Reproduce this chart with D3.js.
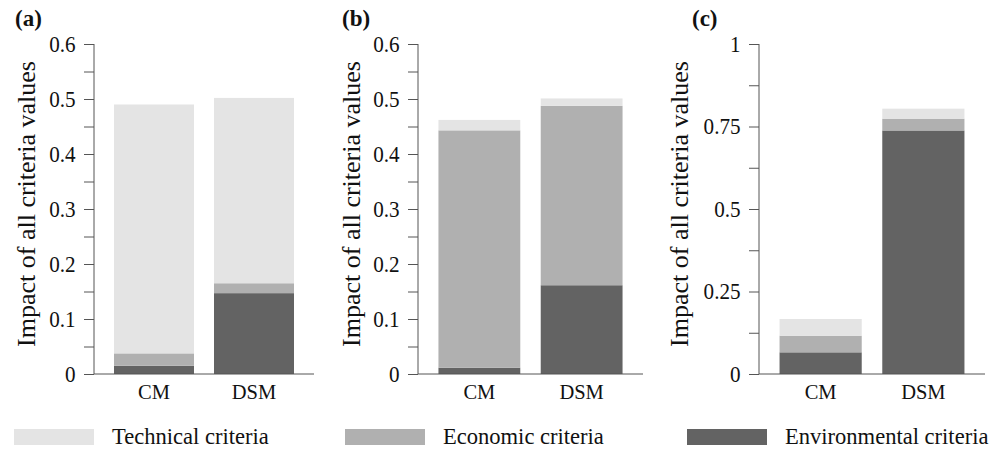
<!DOCTYPE html>
<html>
<head>
<meta charset="utf-8">
<script src="https://cdn.jsdelivr.net/npm/d3@7/dist/d3.min.js"></script>
<style>
  body { margin: 0; background: #fff; }
  svg { display: block; }
  svg text { font-family: "Liberation Serif", Tinos, "Times New Roman", Times, "DejaVu Serif", serif; fill: #111; }
</style>
</head>
<body>
<svg id="chart" width="996" height="451"></svg>
<script>
// ---- data ----
const categories = ["CM", "DSM"];
const seriesNames = ["Environmental criteria", "Economic criteria", "Technical criteria"];
const panelLabels = ["(a)", "(b)", "(c)"];
// values per panel, ordered as categories [CM, DSM]
const envA = [0.015, 0.147];
const ecoA = [0.0225, 0.018];
const techA = [0.4525, 0.337];
const envB = [0.0115, 0.1614];
const ecoB = [0.4315, 0.3261];
const techB = [0.019, 0.0135];
const envC = [0.0657, 0.738];
const ecoC = [0.0503, 0.0357];
const techC = [0.0507, 0.0303];
const yMaxes = [0.6, 0.6, 1];
const tickLabelsAB = ["0", "0.1", "0.2", "0.3", "0.4", "0.5", "0.6"];
const tickLabelsC = ["0", "0.25", "0.5", "0.75", "1"];
const yAxisTitle = "Impact of all criteria values";
const legendOrder = ["Technical criteria", "Economic criteria", "Environmental criteria"];

// ---- styles ----
const colors = {
  "Technical criteria": "#e4e4e4",
  "Economic criteria": "#b0b0b0",
  "Environmental criteria": "#636363"
};
const axisColor = "#555";
const FONT = '"Liberation Serif", Tinos, "Times New Roman", Times, "DejaVu Serif", serif';

const svg = d3.select("#chart");

const panels = [
  { env: envA, eco: ecoA, tech: techA, max: yMaxes[0], minorStep: 0.05, labels: tickLabelsAB,
    x0: 94, x1: 314, titleX: 35, tagX: 15 },
  { env: envB, eco: ecoB, tech: techB, max: yMaxes[1], minorStep: 0.05, labels: tickLabelsAB,
    x0: 418, x1: 643, titleX: 360, tagX: 342 },
  { env: envC, eco: ecoC, tech: techC, max: yMaxes[2], minorStep: 0.125, labels: tickLabelsC,
    x0: 759, x1: 985, titleX: 688, tagX: 692 }
];

const yTop = 44, yBot = 374;

panels.forEach((p, i) => {
  const g = svg.append("g");
  const x = d3.scaleBand().domain(categories).range([p.x0, p.x1]).paddingInner(0.2).paddingOuter(0.2);
  const y = d3.scaleLinear().domain([0, p.max]).range([yBot, yTop]);

  const rows = categories.map((c, k) => ({
    cat: c,
    "Environmental criteria": p.env[k],
    "Economic criteria": p.eco[k],
    "Technical criteria": p.tech[k]
  }));
  const stacked = d3.stack().keys(seriesNames)(rows);

  stacked.forEach(layer => {
    g.append("g").selectAll("rect").data(layer).join("rect")
      .attr("x", d => x(d.data.cat))
      .attr("width", x.bandwidth())
      .attr("y", d => y(d[1]))
      .attr("height", d => y(d[0]) - y(d[1]))
      .attr("fill", colors[layer.key]);
  });

  const nTicks = Math.round(p.max / p.minorStep);
  const tickVals = d3.range(nTicks + 1).map(k => +(k * p.minorStep).toFixed(4));
  const yAxis = d3.axisLeft(y).tickValues(tickVals).tickSize(10).tickPadding(10)
    .tickFormat(v => {
      const l = p.labels.find(s => Math.abs(+s - v) < 1e-6);
      return l !== undefined ? l : "";
    });
  const ya = g.append("g").attr("transform", `translate(${p.x0},0)`).call(yAxis)
    .attr("font-family", FONT);
  ya.select(".domain").attr("stroke", axisColor).attr("d", `M0,${yBot}V${yTop}`);
  ya.selectAll(".tick line").attr("stroke", axisColor);
  ya.selectAll(".tick text").attr("font-size", 23).attr("fill", "#111")
    .attr("transform", "scale(0.92,1)");

  const xAxis = d3.axisBottom(x).tickSize(0).tickPadding(10);
  const xa = g.append("g").attr("transform", `translate(0,${yBot})`).call(xAxis)
    .attr("font-family", FONT);
  xa.select(".domain").attr("stroke", axisColor).attr("d", `M${p.x0},0H${p.x1}`);
  xa.selectAll(".tick text").attr("font-size", 20.5).attr("fill", "#111");

  g.append("text")
    .attr("transform", `translate(${p.titleX},204) rotate(-90)`)
    .attr("text-anchor", "middle")
    .attr("font-family", FONT)
    .attr("font-size", 26)
    .text(yAxisTitle);

  g.append("text").attr("x", p.tagX).attr("y", 26)
    .attr("font-family", FONT)
    .attr("font-size", 23).attr("font-weight", "bold").text(panelLabels[i]);
});

const legendX = [14, 345, 687];
const lg = svg.append("g");
legendOrder.forEach((name, i) => {
  lg.append("rect").attr("x", legendX[i]).attr("y", 429).attr("width", 80).attr("height", 16)
    .attr("fill", colors[name]);
  lg.append("text").attr("transform", `translate(${legendX[i] + 98},444) scale(0.96,1)`)
    .attr("font-family", FONT)
    .attr("font-size", 23.5).text(name);
});
</script>
</body>
</html>
